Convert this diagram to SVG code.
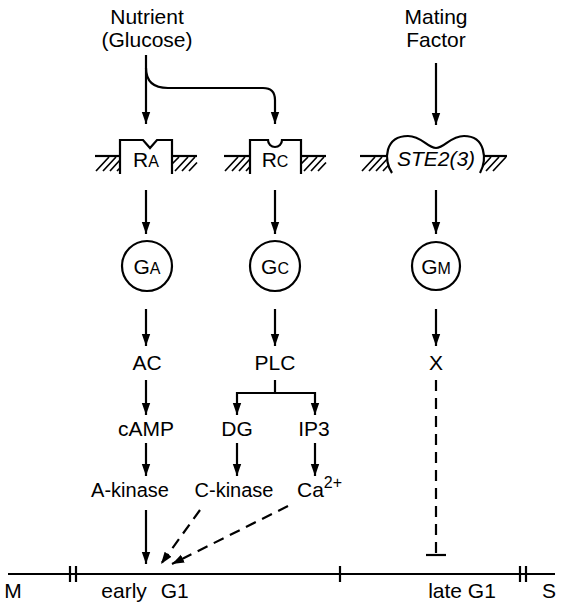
<svg xmlns="http://www.w3.org/2000/svg" width="563" height="603" viewBox="0 0 563 603">
<style>
text{font-family:"Liberation Sans",Arial,sans-serif;font-size:21px;fill:#000;text-anchor:middle}
.k{font-size:20px}
.sm{font-size:16px}
.st{text-anchor:start}
.ln{stroke:#000;stroke-width:2.2;fill:none}
.dash{stroke:#000;stroke-width:2.2;fill:none;stroke-dasharray:11 7}
.h{stroke:#000;stroke-width:1.7;fill:none}
.rec{stroke:#000;stroke-width:2.2;fill:#fff}
</style>
<defs>
<marker id="ah" viewBox="0 0 10 10" refX="10" refY="5" markerWidth="5.5" markerHeight="5.5" orient="auto" markerUnits="strokeWidth">
<path d="M0,1.5 L10,5 L0,8.5 Z" fill="#000"/>
</marker>
</defs>
<rect width="563" height="603" fill="#fff"/>

<g id="nutrient"><text x="147" y="24">Nutrient</text><text x="147" y="47">(Glucose)</text></g>
<g id="mating"><text x="436" y="24">Mating</text><text x="436" y="47">Factor</text></g>

<g id="RA">
<line class="ln" x1="95" y1="156" x2="120" y2="156"/><line class="ln" x1="172" y1="156" x2="197" y2="156"/>
<path class="h" d="M96,171 L109,157 M103,171 L116,157 M110,171 L120,160 M117,171 L120,168 M172,164 L179,157 M175,171 L188,157 M182,171 L195,157 M189,171 L197,162.5"/>
<path class="rec" d="M120,174 L120,140 L143,140 L150,148 L157,140 L172,140 L172,174"/>
<text x="146" y="167">R<tspan class="sm">A</tspan></text>
</g>

<g id="RC">
<line class="ln" x1="224" y1="156" x2="250" y2="156"/><line class="ln" x1="301" y1="156" x2="326" y2="156"/>
<path class="h" d="M225,171 L238,157 M232,171 L245,157 M239,171 L250,159 M246,171 L250,166.7 M301,164 L308,157 M304,171 L317,157 M311,171 L324,157 M318,171 L326,162.5"/>
<path class="rec" d="M250,174 L250,140 L268,140 A7,7 0 0 0 282,140 L301,140 L301,174"/>
<text x="275" y="167">R<tspan class="sm">C</tspan></text>
</g>

<g id="STE2">
<line class="ln" x1="360" y1="156" x2="390" y2="156"/><line class="ln" x1="482" y1="156" x2="507" y2="156"/>
<path class="h" d="M362,171 L375,157 M369,171 L382,157 M376,171 L389,157 M383,171 L390,163.5 M482,167 L491,157 M486,171 L499,157 M493,171 L506,157"/>
<path class="rec" d="M392,173 C383,160 385,136 408,136 C422,136 427,148 436,148 C445,148 450,136 464,136 C486,136 487,160 480,173"/>
<text x="436" y="166" font-style="italic">STE2(3)</text>
</g>

<g id="GA"><circle class="ln" cx="147" cy="266" r="25"/><text x="147" y="274">G<tspan class="sm">A</tspan></text></g>
<g id="GC"><circle class="ln" cx="275" cy="266" r="25"/><text x="275" y="274">G<tspan class="sm">C</tspan></text></g>
<g id="GM"><circle class="ln" cx="436" cy="266" r="24"/><text x="436" y="274">G<tspan class="sm">M</tspan></text></g>

<g id="AC"><text x="147" y="370">AC</text></g>
<g id="PLC"><text x="275" y="370">PLC</text></g>
<g id="X"><text x="436" y="370">X</text></g>
<g id="cAMP"><text x="146" y="436">cAMP</text></g>
<g id="DG"><text x="237" y="436">DG</text></g>
<g id="IP3"><text x="314" y="436">IP3</text></g>
<g id="Akinase"><text class="k" x="130" y="497">A-kinase</text></g>
<g id="Ckinase"><text class="k" x="234" y="497">C-kinase</text></g>
<g id="Ca"><text class="st" x="297" y="497">Ca<tspan dy="-9" font-size="16">2+</tspan></text></g>

<g id="timeline">
<path class="ln" d="M8,574 L555,574 M70,566 L70,582 M76,566 L76,582 M340,566 L340,582 M520,566 L520,582 M526,566 L526,582"/>
<text x="13" y="598">M</text>
<text x="145" y="598" word-spacing="8">early G1</text>
<text x="462" y="598">late G1</text>
<text x="549" y="598">S</text>
</g>

<g id="connectors">
<line class="ln" x1="146" y1="55" x2="146" y2="124" marker-end="url(#ah)"/>
<path class="ln" d="M146,68 Q146,88 168,88 L263,88 Q275,88 275,100 L275,124" marker-end="url(#ah)"/>
<line class="ln" x1="436" y1="63" x2="436" y2="125" marker-end="url(#ah)"/>
<line class="ln" x1="146" y1="190" x2="146" y2="234" marker-end="url(#ah)"/>
<line class="ln" x1="275" y1="190" x2="275" y2="234" marker-end="url(#ah)"/>
<line class="ln" x1="436" y1="190" x2="436" y2="234" marker-end="url(#ah)"/>
<line class="ln" x1="146" y1="309" x2="146" y2="346" marker-end="url(#ah)"/>
<line class="ln" x1="275" y1="309" x2="275" y2="346" marker-end="url(#ah)"/>
<line class="ln" x1="436" y1="309" x2="436" y2="346" marker-end="url(#ah)"/>
<line class="ln" x1="146" y1="380" x2="146" y2="415" marker-end="url(#ah)"/>
<path class="ln" d="M275,380 L275,393 M237,393 L315,393"/>
<line class="ln" x1="237" y1="392" x2="237" y2="415" marker-end="url(#ah)"/>
<line class="ln" x1="315" y1="392" x2="315" y2="415" marker-end="url(#ah)"/>
<line class="ln" x1="146" y1="443" x2="146" y2="476" marker-end="url(#ah)"/>
<line class="ln" x1="237" y1="443" x2="237" y2="476" marker-end="url(#ah)"/>
<line class="ln" x1="315" y1="443" x2="315" y2="476" marker-end="url(#ah)"/>
<line class="ln" x1="146" y1="510" x2="146" y2="564" marker-end="url(#ah)"/>
<line class="dash" x1="200" y1="510" x2="161" y2="564" marker-end="url(#ah)"/>
<line class="dash" x1="288" y1="506" x2="172" y2="564" marker-end="url(#ah)"/>
<line class="dash" x1="436" y1="380" x2="436" y2="555"/>
<line class="ln" x1="426" y1="555" x2="446" y2="555"/>
</g>
</svg>
